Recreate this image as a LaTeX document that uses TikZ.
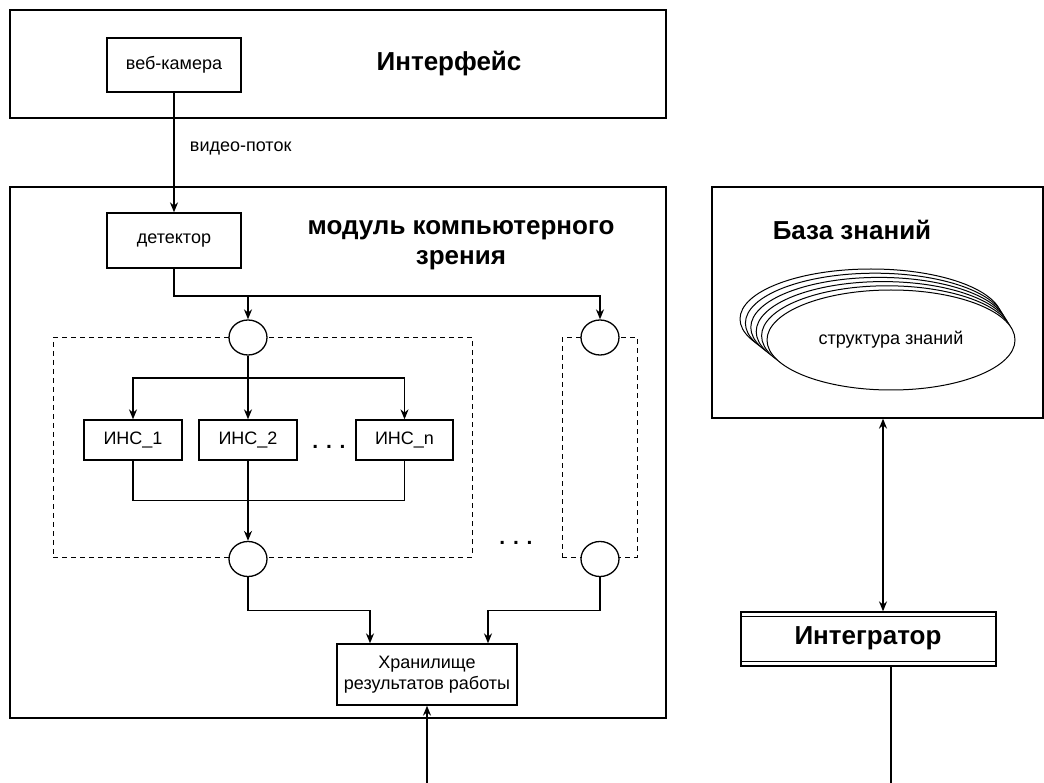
\documentclass[tikz,border=0pt]{standalone}
\usepackage{fontspec}
\setmainfont{Liberation Sans}
\usetikzlibrary{arrows.meta,shapes.geometric}

\begin{document}
\begin{tikzpicture}[x=1pt,y=-1pt,
  font=\fontsize{18}{21}\selectfont,
  line width=1.3pt,
  >={Stealth[length=10pt,width=8pt]},
  box/.style={draw, rectangle, inner sep=0pt, align=center},
  ttl/.style={font=\fontsize{26}{30}\selectfont\bfseries, align=center},
  jn/.style={draw, ellipse, fill=white, minimum width=38pt, minimum height=35pt, inner sep=0pt},
  dbox/.style={draw, rectangle, dash pattern=on 5pt off 4pt, line width=1pt},
  kbell/.style={draw, ellipse, fill=white, line width=1pt, minimum width=248pt, minimum height=100pt}]
\useasboundingbox (0,0) rectangle (1044,783);

% frames
\node [box, minimum width=656, minimum height=108] (iface) at (338,64) {};
\node [box, minimum width=656, minimum height=531] (cvmod) at (338,452.5) {};
\node [box, minimum width=331, minimum height=231] (kb) at (877.5,302.5) {};
\node [ttl] (ifacet) at (449,64) {Интерфейс};
\node [ttl] (cvmodt) at (461,245) {модуль компьютерного\\зрения};
\node [ttl] (kbt) at (852,230) {База знаний};

% interface
\node [box, minimum width=134, minimum height=54] (cam) at (174,65) {веб-камера};
\node [anchor=west] (vlbl) at (186,148) {видео-поток};

% computer vision module
\node [box, minimum width=134, minimum height=55] (det) at (174,240.5) {детектор};
\node [dbox, minimum width=419, minimum height=219.5] (grp1) at (262.5,447.25) {};
\node [dbox, minimum width=75, minimum height=219.5] (grpn) at (599.5,447.25) {};
\node [jn] (c1) at (248,337.5) {};
\node [jn] (c2) at (248,559) {};
\node [jn] (c3) at (600,337.5) {};
\node [jn] (c4) at (600,559) {};
\node [box, minimum width=98, minimum height=40] (ins1) at (133,440) {ИНС\_1};
\node [box, minimum width=98, minimum height=40] (ins2) at (248,440) {ИНС\_2};
\node [box, minimum width=97, minimum height=40] (insn) at (404.5,440) {ИНС\_n};
\node [anchor=base, font=\fontsize{21}{24}\selectfont\bfseries] (dots1) at (329,448) {. . .};
\node [anchor=base, font=\fontsize{21}{24}\selectfont\bfseries] (dots2) at (516,544) {. . .};
\node [box, minimum width=180, minimum height=61] (store) at (427,674.5) {Хранилище\\результатов работы};

% knowledge base
\foreach \k in {5,4,3,2,1}
  \node [kbell, minimum width=248+2.8*\k] (st\k) at ({891-4*\k},{340-4.2*\k}) {};
\node [kbell] (st) at (891,340) {структура знаний};
\node [box, minimum width=255, minimum height=54] (integ) at (868.5,639) {};
\node [ttl] (integt) at (868,638) {Интегратор};
\draw [line width=1pt] ([yshift=-5pt]integ.north west) -- ([yshift=-5pt]integ.north east);
\draw [line width=1pt] ([yshift=5pt]integ.south west) -- ([yshift=5pt]integ.south east);

\coordinate (split) at (248,296);
\coordinate (fan) at (248,378);
\coordinate (inend) at (427,783);
\coordinate (outend) at (891,783);

% connectors
\draw [->] (cam) -- (det);
\draw [->] (det.south) |- (split) -| (c3.north);
\draw [->] (split) -- (c1.north);
\draw [->] (c1) -- (ins2);
\draw [->] (fan) -| (ins1.north);
\draw [->] (fan) -| (insn.north);
\draw (ins1.south) -- ++(0,40) -| (insn.south);
\draw [->] (ins2) -- (c2);
\draw [->] (c2.south) -- ++(0,33) -| ([xshift=-57pt]store.north);
\draw [->] (c4.south) -- ++(0,33) -| ([xshift=61pt]store.north);
\draw [->] (inend) -- (store.south);
\draw [<->] ([xshift=5.5pt]kb.south) -- ([xshift=14.5pt]integ.north);
\draw (integ.south -| outend) -- (outend);
\end{tikzpicture}
\end{document}
